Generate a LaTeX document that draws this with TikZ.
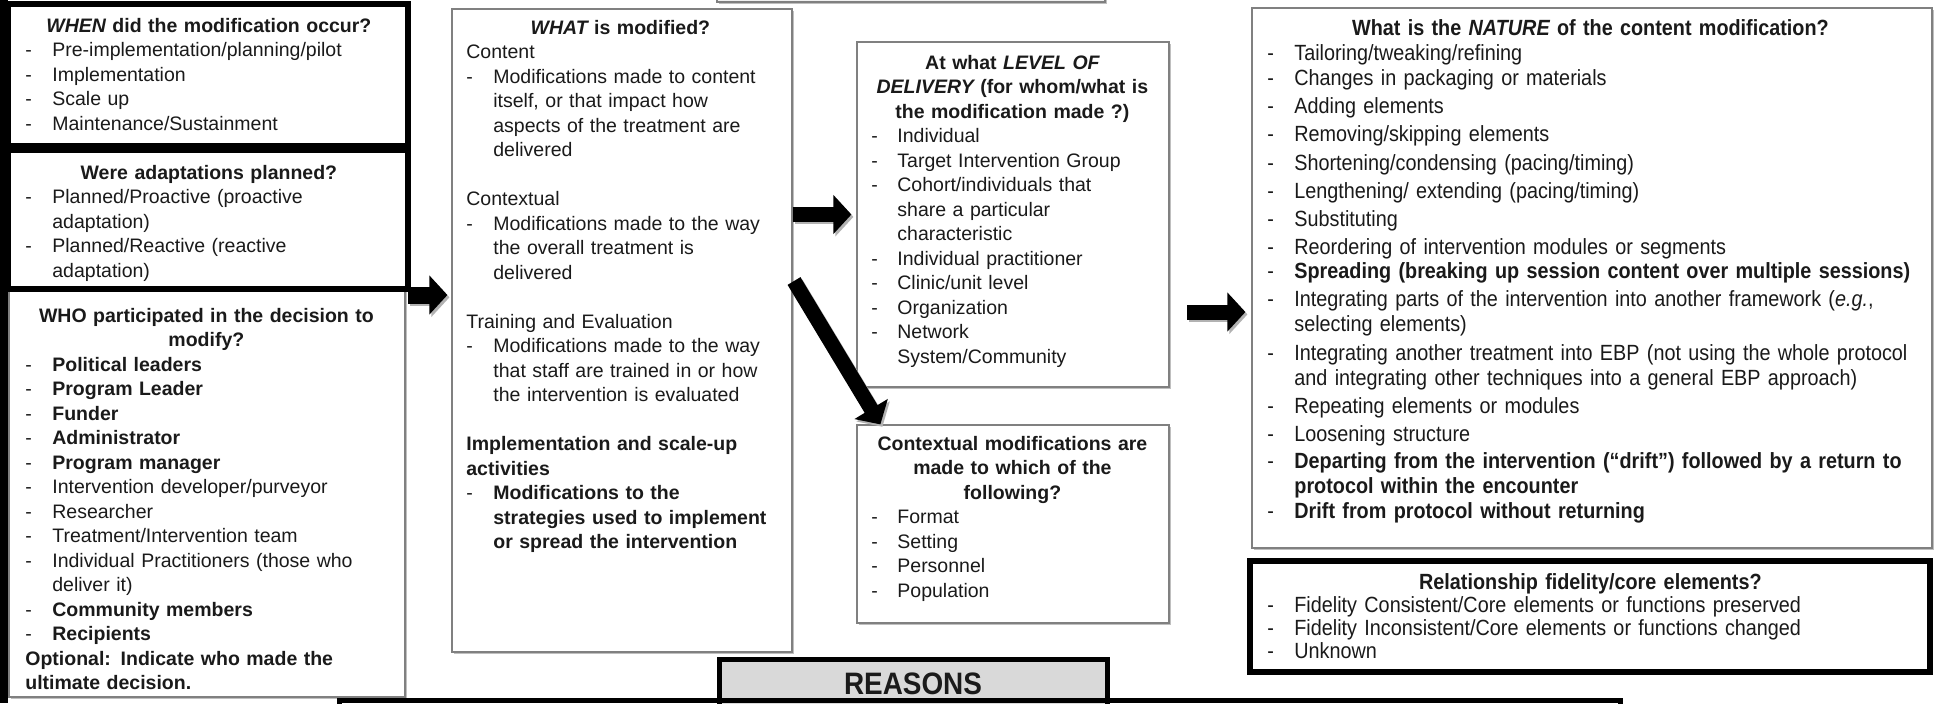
\documentclass[tikz,border=0pt]{standalone}
\usepackage{fontspec}
\setmainfont{Liberation Sans}
\newfontfamily\narrowfont[FakeStretch=0.9]{Liberation Sans}
\usetikzlibrary{arrows.meta,fit,shadows}
\definecolor{reasgray}{HTML}{D9D9D9}
\definecolor{txtcol}{HTML}{1A1A1A}
\newlength\dashw
\setlength\dashw{13.5pt}
\newcommand\boxtitle[1]{\makebox[\linewidth][c]{#1}}
\newcommand\dashline[1]{\mbox{\makebox[\dashw][l]{-}#1}}
\newcommand\contline[1]{\mbox{\hspace*{\dashw}#1}}
\begin{document}
\begin{tikzpicture}[x=0.5pt,y=-0.5pt,
  thinbox/.style={draw=gray, line width=0.6pt, fill=white, inner sep=0pt,
     drop shadow={shadow xshift=1.2pt, shadow yshift=-1.2pt, fill=black!45, opacity=0.55}},
  blackbox/.style={draw=black, line width=3pt, fill=white, inner sep=0pt},
  txt/.style={inner sep=0pt, anchor=base west, align=left, text=txtcol,
     font=\fontsize{9.75pt}{12.25pt}\selectfont},
  ntxt/.style={txt, font=\narrowfont\fontsize{11pt}{12.5pt}\selectfont},
  bigarrow/.style={draw=black, line width=7.5pt, -{Triangle[length=9pt,width=19pt]}},
  arrowshadow/.style={draw=black!30, line width=7.5pt, -{Triangle[length=9pt,width=19pt]}}
]
\useasboundingbox (0,0) rectangle (1944,703);
\clip (0,0) rectangle (1944,703);
\fill[white] (0,0) rectangle (1944,703);

% boxes
\node (topbox) [thinbox, fill=gray!12, fit={(717,-40) (1105,2)}] {};
\node (whobox) [thinbox, fit={(9,288) (405,697)}] {};
\fill[black] (0,0) rectangle (8,703);
\node (whenbox) [blackbox, fit={(8,3.5) (408,146)}] {};
\node (planbox) [blackbox, fit={(8,150) (408,289)}] {};
\node (whatbox) [thinbox, fit={(452,9) (792,652)}] {};
\node (levelbox) [thinbox, fit={(857,42) (1169,387)}] {};
\node (ctxbox) [thinbox, fit={(857,425) (1169,623)}] {};
\node (naturebox) [thinbox, fit={(1252,8) (1932,548)}] {};
\node (fidbox) [blackbox, drop shadow={shadow xshift=1.2pt, shadow yshift=-1.2pt, fill=black!45, opacity=0.55}, fit={(1250,561) (1930,672)}] {};
\node (reasonsbox) [blackbox, line width=2.5pt, fill=reasgray, fit={(719.5,659.5) (1107.5,760)}] {};
\node (lowerbox) [draw=black, line width=2.5pt, inner sep=0pt, fit={(339,700.5) (1620,780)}] {};

% arrows
\coordinate (lstart) at (408,295);
\coordinate (lnstart) at (1187,312);
\coordinate (dstart) at (794,281);
\begin{scope}[transform canvas={shift={(1pt,-1.2pt)}}]
  \draw[arrowshadow, line width=8.5pt, shorten >=2pt] (lstart) -- (whatbox.west |- lstart);
  \draw[arrowshadow, shorten >=2.5pt] (whatbox.east |- levelbox.west) -- (levelbox.west);
  \draw[arrowshadow, shorten >=3pt] (lnstart) -- (naturebox.west |- lnstart);
  \draw[arrowshadow] (dstart) -- ([xshift=12pt]ctxbox.north west);
\end{scope}
\draw[bigarrow, line width=8.5pt, shorten >=2pt] (lstart) -- (whatbox.west |- lstart);
\draw[bigarrow, shorten >=2.5pt] (whatbox.east |- levelbox.west) -- (levelbox.west);
\draw[bigarrow, shorten >=3pt] (lnstart) -- (naturebox.west |- lnstart);
\draw[bigarrow] (dstart) -- ([xshift=12pt]ctxbox.north west);

% texts
\node (whentext) [txt, text width=183.5pt] at (25,32) {%
\boxtitle{\bfseries\itshape WHEN\upshape\ did the modification occur?}\\
\dashline{Pre-implementation/planning/pilot}\\
\dashline{Implementation}\\
\dashline{Scale up}\\
\dashline{Maintenance/Sustainment}};

\node (plantext) [txt, text width=183.5pt] at (25,179) {%
\boxtitle{\bfseries Were adaptations planned?}\\
\dashline{Planned/Proactive (proactive}\\
\contline{adaptation)}\\
\dashline{Planned/Reactive (reactive}\\
\contline{adaptation)}};

\node (whotext) [txt, text width=181pt] at (25,322) {%
\boxtitle{\bfseries WHO participated in the decision to}\\
\boxtitle{\bfseries modify?}\\
\dashline{\bfseries Political leaders}\\
\dashline{\bfseries Program Leader}\\
\dashline{\bfseries Funder}\\
\dashline{\bfseries Administrator}\\
\dashline{\bfseries Program manager}\\
\dashline{Intervention developer/purveyor}\\
\dashline{Researcher}\\
\dashline{Treatment/Intervention team}\\
\dashline{Individual Practitioners (those who}\\
\contline{deliver it)}\\
\dashline{\bfseries Community members}\\
\dashline{\bfseries Recipients}\\
\mbox{\bfseries Optional: Indicate who made the}\\
\mbox{\bfseries ultimate decision.}};

\node (whattext) [txt, text width=154pt] at (466,34) {%
\boxtitle{\bfseries\itshape WHAT\upshape\ is modified?}\\
\mbox{Content}\\
\dashline{Modifications made to content}\\
\contline{itself, or that impact how}\\
\contline{aspects of the treatment are}\\
\contline{delivered}\\[12.25pt]
\mbox{Contextual}\\
\dashline{Modifications made to the way}\\
\contline{the overall treatment is}\\
\contline{delivered}\\[12.25pt]
\mbox{Training and Evaluation}\\
\dashline{Modifications made to the way}\\
\contline{that staff are trained in or how}\\
\contline{the intervention is evaluated}\\[12.25pt]
\mbox{\bfseries Implementation and scale-up}\\
\mbox{\bfseries activities}\\
\dashline{\bfseries Modifications to the}\\
\contline{\bfseries strategies used to implement}\\
\contline{\bfseries or spread the intervention}};

\node (leveltext) [txt, text width=141pt] at (871,69) {\setlength\dashw{13pt}%
\boxtitle{\bfseries At what \itshape LEVEL OF}\\
\boxtitle{\bfseries\itshape DELIVERY\upshape\ (for whom/what is}\\
\boxtitle{\bfseries the modification made ?)}\\
\dashline{Individual}\\
\dashline{Target Intervention Group}\\
\dashline{Cohort/individuals that}\\
\contline{share a particular}\\
\contline{characteristic}\\
\dashline{Individual practitioner}\\
\dashline{Clinic/unit level}\\
\dashline{Organization}\\
\dashline{Network}\\
\contline{System/Community}};

\node (ctxtext) [txt, text width=141pt] at (871,450) {\setlength\dashw{13pt}%
\boxtitle{\bfseries Contextual modifications are}\\
\boxtitle{\bfseries made to which of the}\\
\boxtitle{\bfseries following?}\\
\dashline{Format}\\
\dashline{Setting}\\
\dashline{Personnel}\\
\dashline{Population}};

\node (naturetext) [ntxt, text width=323pt] at (1267,35) {%
\boxtitle{\bfseries What is the \itshape NATURE\upshape\ of the content modification?}\\
\dashline{Tailoring/tweaking/refining}\\
\dashline{Changes in packaging or materials}\\[1.5pt]
\dashline{Adding elements}\\[1.5pt]
\dashline{Removing/skipping elements}\\[2pt]
\dashline{Shortening/condensing (pacing/timing)}\\[1.5pt]
\dashline{Lengthening/ extending (pacing/timing)}\\[1.5pt]
\dashline{Substituting}\\[1.5pt]
\dashline{Reordering of intervention modules or segments}\\[-0.5pt]
\dashline{\bfseries Spreading (breaking up session content over multiple sessions)}\\[1.5pt]
\dashline{Integrating parts of the intervention into another framework (\textit{e.g.},}\\
\contline{selecting elements)}\\[2pt]
\dashline{Integrating another treatment into EBP (not using the whole protocol}\\
\contline{and integrating other techniques into a general EBP approach)}\\[1.5pt]
\dashline{Repeating elements or modules}\\[1.5pt]
\dashline{Loosening structure}\\[1pt]
\dashline{\bfseries Departing from the intervention (“drift”) followed by a return to}\\
\contline{\bfseries protocol within the encounter}\\
\dashline{\bfseries Drift from protocol without returning}};

\node (fidtext) [ntxt, text width=323pt, font=\narrowfont\fontsize{11pt}{11.5pt}\selectfont] at (1267,589) {%
\boxtitle{\bfseries Relationship fidelity/core elements?}\\
\dashline{Fidelity Consistent/Core elements or functions preserved}\\
\dashline{Fidelity Inconsistent/Core elements or functions changed}\\
\dashline{Unknown}};

\node (reasonstext) [inner sep=0pt, text=txtcol, font=\narrowfont\fontsize{15.5pt}{18pt}\selectfont\bfseries] at (913,684) {REASONS};
\end{tikzpicture}
\end{document}
